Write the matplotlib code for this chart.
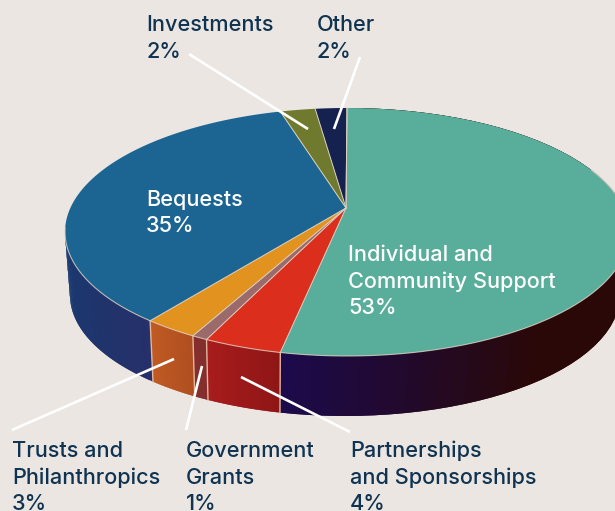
import numpy as np
import matplotlib
matplotlib.use("Agg")
import matplotlib.pyplot as plt
from matplotlib.colors import to_rgb

# shares as measured from the slice edges, labels carry the printed figures
categories = ["Individual and Community Support", "Partnerships and Sponsorships",
              "Government Grants", "Trusts and Philanthropics", "Bequests",
              "Investments", "Other"]
printed_pct = [53, 4, 1, 3, 35, 2, 2]
drawn_share = [53.8, 4.5, 0.9, 3.1, 33.9, 2.0, 1.8]

top_colors = ["#58ad9b", "#dc2e1c", "#9b6a6a", "#e2921e", "#1c6592", "#6f7a2e", "#15214e"]
side_colors = [("#2a0808", "#1c0a4a"), ("#8f1616", "#a81c1c"), ("#7d2020", "#7d2020"),
               ("#b04e20", "#c05a22"), ("#26306a", "#173a70"), ("#6f7a2e", "#6f7a2e"),
               ("#15214e", "#15214e")]

label_lines = [
    (["Individual and", "Community Support", "53%"], 348, 261, "white"),
    (["Partnerships", "and Sponsorships", "4%"], 350, 457, "#0f3350"),
    (["Government", "Grants", "1%"], 186, 457, "#0f3350"),
    (["Trusts and", "Philanthropics", "3%"], 12, 457, "#0f3350"),
    (["Bequests", "35%"], 146, 206, "white"),
    (["Investments", "2%"], 146, 31, "#0f3350"),
    (["Other", "2%"], 317, 31, "#0f3350"),
]
leaders = [((189, 54), (308, 129)), ((360, 57), (334, 129)), ((12, 430), (174, 359)),
           ((186, 430), (202, 366)), ((350, 432), (241, 377))]

APEX = (346, 208)
TOP = (347, 232, 282, 124)
BOTTOM = (345, 295, 275, 121)
BG = "#ebe6e2"
EDGE = "#dcd0c0"


def rim(t, ell):
    cx, cy, rx, ry = ell
    return cx + rx * np.sin(t), cy - ry * np.cos(t)


fig = plt.figure(figsize=(6.15, 5.11), dpi=100, facecolor=BG)
ax = fig.add_axes([0, 0, 1, 1])
ax.set_xlim(0, 615)
ax.set_ylim(511, 0)
ax.axis("off")

edges = np.radians(np.concatenate([[0], np.cumsum(drawn_share)]) * 3.6)

# Side wall, each strip overlaps the next one so no seams show
for i in range(len(drawn_share)):
    a, b = edges[i], min(edges[i + 1], np.pi * 1.5)
    if a >= b:
        continue
    c0, c1 = np.array(to_rgb(side_colors[i][0])), np.array(to_rgb(side_colors[i][1]))
    ts = np.linspace(a, b, 60)
    for j in range(len(ts) - 1):
        f = j / (len(ts) - 2)
        if i == 0:
            # the wall stays dark until the last third of this big slice
            f = max(0, (f - 0.72) / 0.28)
        col = c0 + (c1 - c0) * f
        xt, yt = rim(ts[j:j + 3], TOP)
        xb, yb = rim(ts[j:j + 3], BOTTOM)
        ax.fill(np.r_[xt, xb[::-1]], np.r_[yt, yb[::-1]], color=col, lw=0, zorder=1)
    if i > 0:
        xt, yt = rim(a, TOP)
        xb, yb = rim(a, BOTTOM)
        ax.plot([xt, xb], [yt, yb], color="#e0b8a0", lw=1.0, zorder=2)

# Top face
for i in range(len(drawn_share)):
    ts = np.linspace(edges[i], edges[i + 1], 80)
    x, y = rim(ts, TOP)
    ax.fill(np.r_[APEX[0], x], np.r_[APEX[1], y], color=top_colors[i], lw=0, zorder=3)
for e in edges:
    x, y = rim(e, TOP)
    ax.plot([APEX[0], x], [APEX[1], y], color=EDGE, lw=0.7, zorder=3)

# Pale rim on the front only
ts = np.linspace(np.radians(60), np.radians(272), 200)
x, y = rim(ts, TOP)
ax.plot(x, y, color=EDGE, lw=0.8, alpha=0.8, zorder=3)

for (x0, y0), (x1, y1) in leaders:
    ax.plot([x0, x1], [y0, y1], color="white", lw=1.9, solid_capstyle="butt", zorder=4)

for lines, x, y, col in label_lines:
    for k, line in enumerate(lines):
        ax.text(x, y + k * 26.5, line, color=col, family="Inter", fontsize=15.6,
                weight="medium", va="baseline", ha="left", zorder=5)

fig.savefig("out.png", dpi=100, facecolor=BG)
